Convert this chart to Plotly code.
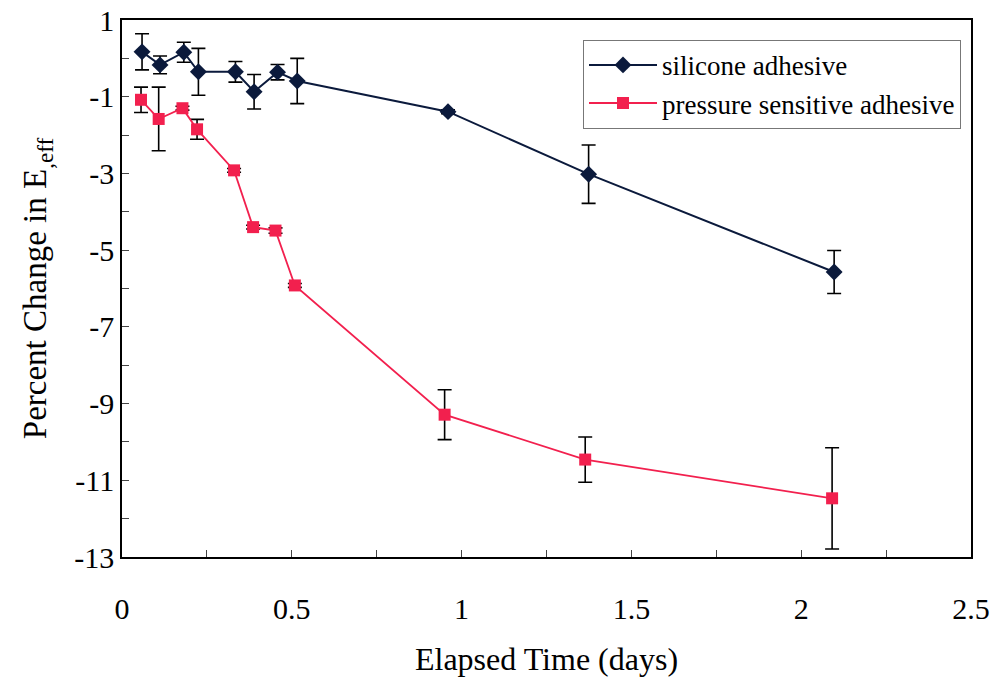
import plotly.graph_objects as go

# Silicone adhesive
sil_x = [0.059, 0.112, 0.182, 0.225, 0.334, 0.389, 0.458, 0.516, 0.960, 1.374, 2.097]
sil_y = [0.17, -0.17, 0.16, -0.35, -0.35, -0.87, -0.36, -0.59, -1.39, -3.02, -5.57]
sil_err = [0.47, 0.23, 0.26, 0.61, 0.27, 0.45, 0.20, 0.59, 0.05, 0.76, 0.56]

# Pressure sensitive adhesive
psa_x = [0.056, 0.108, 0.178, 0.221, 0.330, 0.386, 0.452, 0.509, 0.950, 1.364, 2.091]
psa_y = [-1.08, -1.58, -1.30, -1.85, -2.92, -4.40, -4.49, -5.92, -9.29, -10.46, -11.47]
psa_err = [0.33, 0.83, 0.05, 0.26, 0.05, 0.05, 0.07, 0.05, 0.65, 0.59, 1.32]

x_ticks = [0, 0.5, 1, 1.5, 2, 2.5]
y_ticks = [1, -1, -3, -5, -7, -9, -11, -13]

FONT = "Liberation Serif"

fig = go.Figure()
fig.add_trace(go.Scatter(
    x=sil_x, y=sil_y, mode="lines+markers", name="silicone adhesive",
    line=dict(color="#0b1a3c", width=2),
    marker=dict(symbol="diamond", size=13, color="#0b1a3c"),
    error_y=dict(type="data", array=sil_err, color="black", thickness=1.6, width=7),
))
fig.add_trace(go.Scatter(
    x=psa_x, y=psa_y, mode="lines+markers", name="pressure sensitive adhesive",
    line=dict(color="#f2204e", width=1.8),
    marker=dict(symbol="square", size=12, color="#f2204e"),
    error_y=dict(type="data", array=psa_err, color="black", thickness=1.6, width=7),
))

fig.update_layout(
    width=993, height=686,
    margin=dict(l=122, r=22, t=20, b=129, autoexpand=False),
    paper_bgcolor="white", plot_bgcolor="white",
    font=dict(family=FONT, size=28, color="black"),
    showlegend=True,
    legend=dict(
        x=0.543, y=0.963, xanchor="left", yanchor="top",
        bgcolor="white", bordercolor="#777777", borderwidth=1,
        font=dict(family=FONT, size=27, color="black"),
        itemwidth=68, tracegroupgap=10,
    ),
)
fig.update_xaxes(
    range=[0, 2.5], tickvals=x_ticks, ticktext=[str(v) for v in x_ticks],
    ticks="inside", ticklen=0, tickcolor="black",
    tickfont=dict(family=FONT, size=30),
    minor=dict(dtick=0.25, tick0=0, ticks="inside", ticklen=7, tickcolor="#444444"),
    showline=True, linecolor="black", linewidth=1.5, mirror=True,
    showgrid=False, zeroline=False, automargin=False,
    ticklabelstandoff=24,
    title=dict(text="Elapsed Time (days)", font=dict(family=FONT, size=32), standoff=24),
)
fig.update_yaxes(
    range=[-13, 1], tickvals=y_ticks, ticktext=[str(v) for v in y_ticks],
    ticks="inside", ticklen=7, tickcolor="#444444",
    tickfont=dict(family=FONT, size=30),
    minor=dict(dtick=1, tick0=1, ticks="inside", ticklen=7, tickcolor="#444444"),
    showline=True, linecolor="black", linewidth=1.5, mirror=True,
    showgrid=False, zeroline=False, automargin=False,
    title=dict(text="Percent Change in E<sub>,eff</sub>", font=dict(family=FONT, size=33), standoff=18),
)

fig.write_html("out.html")
